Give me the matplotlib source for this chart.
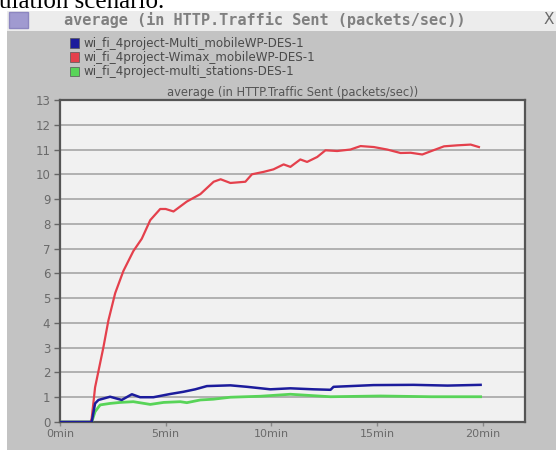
import matplotlib
matplotlib.use("Agg")
import matplotlib.pyplot as plt
from matplotlib.patches import Rectangle

# ---------------- data ----------------
series_labels = [
    "wi_fi_4project-Multi_mobileWP-DES-1",
    "wi_fi_4project-Wimax_mobileWP-DES-1",
    "wi_fi_4project-multi_stations-DES-1",
]
x_tick_vals = [0, 5, 10, 15, 20]
x_tick_labels = ["0min", "5min", "10min", "15min", "20min"]
y_tick_vals = list(range(0, 14))

red_t = [0, 1.45, 1.5, 1.66, 2.05, 2.29, 2.61, 3.0, 3.47, 3.87, 4.27, 4.74, 5.0, 5.37,
         6.0, 6.64, 7.27, 7.6, 8.06, 8.77, 9.08, 9.64, 10.1, 10.58, 10.9, 11.37, 11.69,
         12.17, 12.56, 13.11, 13.74, 14.22, 14.85, 15.48, 16.11, 16.59, 17.14, 17.54,
         18.17, 18.8, 19.43, 19.82]
red_v = [0, 0, 0.15, 1.4, 3.0, 4.1, 5.2, 6.1, 6.9, 7.4, 8.15, 8.6, 8.6, 8.5,
         8.9, 9.2, 9.7, 9.8, 9.65, 9.7, 10.0, 10.1, 10.2, 10.4, 10.3, 10.6, 10.5,
         10.7, 10.97, 10.94, 11.0, 11.14, 11.1, 11.0, 10.86, 10.87, 10.8, 10.93,
         11.13, 11.17, 11.2, 11.1]

blue_t = [0, 1.5, 1.66, 1.82, 2.37, 2.92, 3.4, 3.79, 4.42, 5.21, 5.84, 6.4, 6.95, 8.06,
          8.85, 9.95, 10.9, 11.99, 12.8, 12.94, 14.83, 16.73, 18.34, 19.9]
blue_v = [0, 0, 0.75, 0.89, 1.02, 0.89, 1.12, 1.0, 1.0, 1.13, 1.22, 1.32, 1.45, 1.48,
          1.42, 1.32, 1.36, 1.32, 1.3, 1.42, 1.49, 1.5, 1.47, 1.5]

green_t = [0, 1.5, 1.66, 1.9, 2.37, 2.84, 3.47, 4.27, 4.9, 5.69, 6.0, 6.64, 7.25, 8.06,
           9.48, 10.9, 12.8, 15.17, 17.54, 19.9]
green_v = [0, 0, 0.42, 0.69, 0.75, 0.79, 0.82, 0.71, 0.79, 0.82, 0.78, 0.89, 0.92, 1.0,
           1.04, 1.12, 1.02, 1.05, 1.02, 1.02]

BLUE = "#1c1c9c"
RED = "#e4404c"
GREEN = "#58d458"

W, H = 556, 450
fig = plt.figure(figsize=(W / 100, H / 100), dpi=100)
fig.patch.set_facecolor("white")

def fx(px):
    return px / W

def fy(py):
    return 1 - py / H

# window panel
fig.patches.append(Rectangle((fx(7), 0), 1, fy(31), transform=fig.transFigure,
                             facecolor="#c3c3c3", edgecolor="none", zorder=-2))
# title bar
fig.patches.append(Rectangle((fx(7), fy(31)), 1, (31 - 11) / H, transform=fig.transFigure,
                             facecolor="#ececec", edgecolor="none", zorder=-2))
# icon
fig.patches.append(Rectangle((fx(9), fy(28)), 19 / W, 16 / H, transform=fig.transFigure,
                             facecolor="#a09ad0", edgecolor="#8c86c0", zorder=-1))
fig.text(fx(265), fy(20.5), "average (in HTTP.Traffic Sent (packets/sec))",
         ha="center", va="center", fontsize=11, fontweight="bold",
         family="DejaVu Sans Mono", color="#808080")
fig.text(fx(549), fy(19), "X", ha="center", va="center", fontsize=11,
         family="DejaVu Sans", color="#6a6a6a")

# document text on top (cut off at the top edge as in the reference)
fig.text(fx(-1), fy(8), "ulation scenario.", ha="left", va="baseline",
         fontsize=18, family="Liberation Serif", color="black")

# legend
legend_colors = [BLUE, RED, GREEN]
for i, (lab, col) in enumerate(zip(series_labels, legend_colors)):
    yc = 43 + i * 14
    fig.patches.append(Rectangle((fx(70), fy(yc + 4.5)), 9 / W, 9 / H, transform=fig.transFigure,
                                 facecolor=col, edgecolor="#555555", linewidth=0.5, zorder=-1))
    fig.text(fx(83), fy(yc), lab, ha="left", va="center", fontsize=8.6,
             color="#4a4a4a", family="DejaVu Sans")

# axes
ax = fig.add_axes([fx(60), fy(422), (525 - 60) / W, (422 - 100) / H])
ax.set_zorder(5)
ax.set_facecolor("#f1f1f1")
ax.plot(green_t, green_v, color=GREEN, lw=2.0, zorder=3)
ax.plot(red_t, red_v, color=RED, lw=1.6, zorder=4)
ax.plot(blue_t, blue_v, color=BLUE, lw=1.8, zorder=5)

ax.set_xlim(0, 22)
ax.set_ylim(0, 13)
ax.set_yticks(y_tick_vals)
ax.set_yticklabels([str(v) for v in y_tick_vals])
ax.set_xticks(x_tick_vals)
ax.set_xticklabels(x_tick_labels)
ax.yaxis.grid(True, color="#a6a6a6", lw=1.2)
ax.xaxis.grid(False)
ax.set_axisbelow(True)
for s in ax.spines.values():
    s.set_color("#555555")
    s.set_linewidth(1.6)
ax.tick_params(axis="y", length=4, width=1, color="#666666", labelsize=8.5,
               labelcolor="#6a6a6a", pad=3)
ax.tick_params(axis="x", length=3, width=1, color="#888888", labelsize=8,
               labelcolor="#6a6a6a", pad=2)
ax.set_title("average (in HTTP.Traffic Sent (packets/sec))", fontsize=8.3,
             color="#555555", pad=3)

fig.savefig("out.png", dpi=100)
